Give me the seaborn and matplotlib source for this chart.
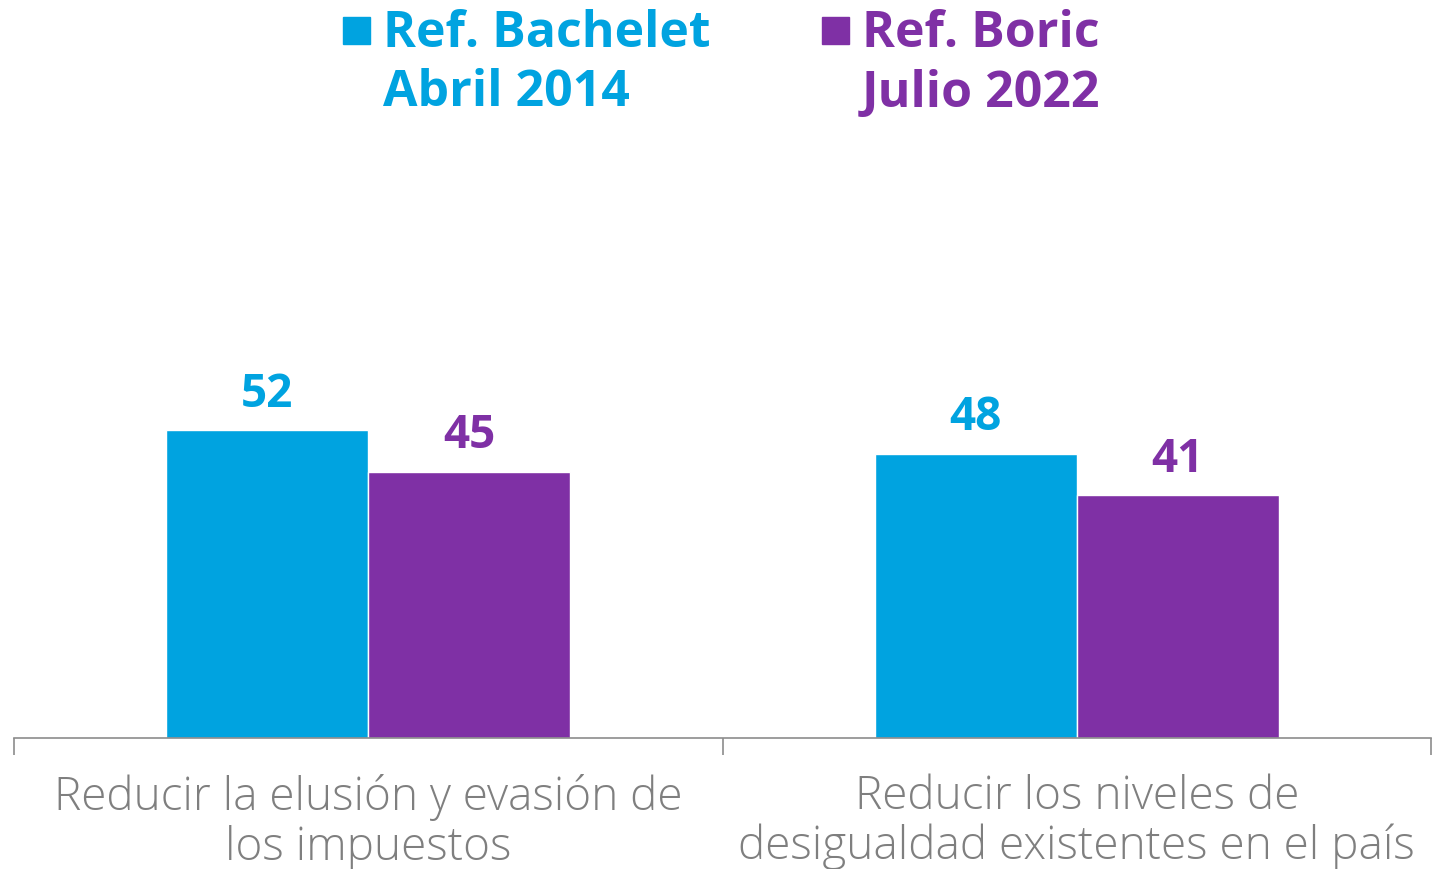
import pandas as pd
import matplotlib.pyplot as plt
import seaborn as sns
from matplotlib.patches import Rectangle

sns.set_style("white")
plt.rcParams['font.family'] = ['Open Sans', 'DejaVu Sans']

# datos
categorias = ['Reducir la elusión y evasión de\nlos impuestos',
              'Reducir los niveles de\ndesigualdad existentes en el país']
series = ['Ref. Bachelet\nAbril 2014', 'Ref. Boric\nJulio 2022']
bachelet = [52, 48]
boric = [45, 41]
colores = ['#00A3E0', '#7F30A5']

df = pd.DataFrame({
    'categoria': categorias * 2,
    'serie': [series[0]] * 2 + [series[1]] * 2,
    'valor': bachelet + boric,
})

fig = plt.figure(figsize=(14.34, 8.69), dpi=100)
ax = fig.add_axes([14 / 1434, 131 / 869, 1417 / 1434, 592 / 869])

sns.barplot(data=df, x='categoria', y='valor', hue='serie', hue_order=series,
            palette=colores, saturation=1, width=0.57, gap=0, legend=False, ax=ax)

for cont, col in zip(ax.containers, colores):
    ax.bar_label(cont, fmt='%g', padding=9, color=col, fontsize=33, fontweight='bold')

ax.set_ylim(0, 100)
ax.set_xlim(-0.5, 1.5)
ax.set_xlabel('')
ax.set_ylabel('')
ax.set_yticks([])
for s in ['left', 'right', 'top']:
    ax.spines[s].set_visible(False)
ax.spines['bottom'].set_color('#8c8c8c')
ax.spines['bottom'].set_linewidth(1.2)
ax.tick_params(axis='x', which='major', bottom=False, length=0, pad=26, labelsize=33, labelcolor='#7f7f7f')
ax.set_xticks([-0.5, 0.5, 1.5], minor=True)
ax.tick_params(axis='x', which='minor', bottom=True, length=12, width=1.2, color='#8c8c8c', direction='out')
for t in ax.get_xticklabels():
    t.set_fontweight('light')
    t.set_linespacing(1.1)

# leyenda
ley_x = [(343, 383), (822, 862)]
for (xm, xt), lab, col in zip(ley_x, series, colores):
    fig.patches.append(Rectangle((xm / 1434, 1 - 44 / 869), 27 / 1434, 27 / 869,
                                 transform=fig.transFigure, color=col, figure=fig))
    fig.text(xt / 1434, 1 - 9 / 869, lab, ha='left', va='top', color=col,
             fontsize=36, fontweight='bold', linespacing=1.25)

fig.savefig('out.png', dpi=100)
